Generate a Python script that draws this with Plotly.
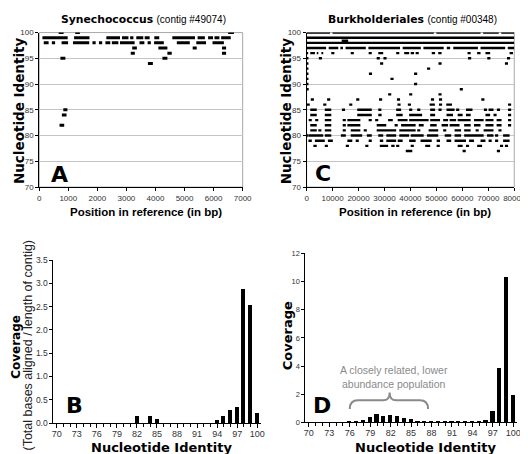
import plotly.graph_objects as go

W, H = 528, 454

# ---------------- Panel A: Synechococcus (contig #49074) reads: (start bp, end bp) per identity
a_100 = [(670, 840), (1240, 1400), (6500, 6700)]
a_99 = [(110, 980), (1200, 1730), (2310, 2780), (2850, 3070), (3130, 3240), (3340, 3580),
        (3630, 3800), (3960, 4130), (4580, 5360), (5450, 5700), (5810, 5980), (6030, 6200),
        (6260, 6590)]
a_98 = [(156, 324), (435, 547), (770, 994), (1161, 1720), (1832, 1943), (2055, 2166),
        (2278, 2445), (2500, 2724), (2780, 3283), (3450, 3618), (3730, 3841), (3953, 4288),
        (4735, 5181), (5404, 5740), (5963, 6354)]
a_97 = [(3200, 3360), (4100, 4410), (5280, 5420), (6290, 6430)]
a_96 = [(3150, 3290), (4410, 4560), (6290, 6430)]
a_95 = [(730, 900), (4240, 4410)]
a_94 = [(3740, 3910)]
a_85 = [(830, 970)]
a_84 = [(780, 940)]
a_82 = [(700, 860)]

# ---------------- Panel C: Burkholderiales (contig #00348) reads: (start kbp, end kbp) per identity
c_100 = [(0, 9.0), (10.0, 49.0), (50.0, 67.0), (68.0, 74.0), (75.0, 80.0)]
c_99 = [(0, 80.0)]
c_98 = [(0, 80.0)]
c_98_5 = [(13.5, 16.0)]
c_97 = [(0, 7.5), (8.5, 12.2), (13.0, 14.0), (15.0, 22.8), (23.8, 36.0), (37.0, 44.0),
        (45.0, 52.8), (54.0, 55.3), (56.5, 66.0), (67.0, 76.5), (77.5, 80.0)]
c_96 = [(0, 0.6), (1.4, 3.2), (3.9, 4.5), (5.7, 6.4), (9.5, 10.7), (17.0, 18.2), (23.9, 25.1),
        (27.6, 29.5), (34.5, 35.7), (37.6, 39.5), (40.1, 41.4), (42.0, 43.2), (48.2, 49.5),
        (50.7, 52.0), (62.0, 63.2), (65.7, 67.0), (68.9, 70.7), (78.2, 79.5)]
c_95 = [(0, 0.7), (4.7, 5.9), (27.0, 28.2), (29.6, 30.8), (62.2, 63.4), (69.6, 70.8), (77.2, 78.4)]
c_94 = [(0, 0.7), (28.3, 29.5), (50.8, 52.0), (76.4, 77.6)]
c_93 = [(0, 0.7), (46.4, 47.6)]
c_92 = [(0, 0.7), (24.0, 25.2), (41.4, 42.6)]
c_91 = [(0, 0.7), (32.3, 33.5)]
c_90 = [(0, 0.7), (41.4, 42.6)]
c_89 = [(0, 0.8), (59.0, 60.2)]
c_88 = [(31.4, 32.6), (39.5, 40.7), (50.8, 52.0)]
c_87 = [(1.6, 2.8), (7.9, 9.1), (19.1, 20.3), (27.9, 29.1), (34.8, 36.0), (47.9, 49.1),
        (51.0, 52.2), (67.3, 68.5)]
c_86 = [(0, 1.2), (6.4, 7.6), (16.4, 17.6), (35.0, 36.2), (39.0, 40.2), (47.4, 49.4),
        (51.0, 52.2), (53.8, 56.0), (77.6, 78.8)]
c_85 = [(1.4, 3.9), (7.0, 9.5), (13.6, 14.8), (19.5, 25.1), (27.6, 28.8), (34.5, 36.4),
        (39.5, 40.7), (42.6, 43.8), (47.6, 49.5), (50.8, 52.0), (53.9, 57.0), (57.6, 58.8),
        (61.4, 63.9), (68.3, 69.5), (70.1, 72.0), (73.3, 74.5), (77.6, 78.8)]
c_84 = [(1.4, 3.9), (7.0, 9.5), (19.5, 25.1), (27.6, 28.9), (34.5, 37.0), (39.5, 44.5),
        (47.6, 49.5), (53.9, 56.4), (58.2, 60.1), (61.4, 63.2), (68.9, 70.7), (72.0, 73.2),
        (77.6, 78.8)]
c_83 = [(0.8, 2.0), (3.3, 4.5), (7.0, 9.5), (13.9, 15.1), (15.7, 20.7), (23.9, 25.1),
        (26.4, 27.6), (31.4, 33.2), (35.1, 38.9), (39.5, 47.0), (47.6, 51.4), (52.6, 54.5),
        (55.1, 57.6), (58.2, 63.2), (64.5, 68.2), (68.9, 72.0), (73.2, 75.1), (77.6, 78.8)]
c_82 = [(1.4, 3.9), (7.0, 9.5), (13.9, 15.1), (15.7, 20.7), (27.0, 30.7), (33.9, 35.1),
        (36.4, 42.0), (43.2, 45.1), (47.6, 50.1), (52.0, 54.5), (55.1, 58.9), (60.7, 63.2),
        (64.5, 67.0), (68.9, 72.0), (73.2, 75.1), (77.6, 78.8)]
c_81 = [(1.4, 3.9), (4.5, 5.7), (7.0, 9.5), (13.9, 15.1), (17.0, 20.7), (22.0, 23.2),
        (27.0, 34.5), (35.7, 42.0), (42.6, 43.8), (47.0, 50.7), (52.6, 53.8), (57.0, 59.5),
        (60.7, 63.2), (65.1, 66.3), (68.2, 72.0), (73.9, 75.1)]
c_80 = [(0, 0.6), (0.7, 6.4), (7.0, 9.5), (13.2, 15.1), (17.0, 21.4), (23.2, 25.1),
        (27.6, 29.5), (30.7, 34.5), (35.7, 39.5), (40.1, 45.1), (46.4, 50.7), (53.2, 55.7),
        (57.0, 59.5), (60.7, 68.2), (69.5, 72.0), (72.6, 73.8), (75.7, 78.2)]
c_79 = [(0.7, 2.0), (3.2, 7.0), (8.2, 10.1), (15.7, 17.6), (18.9, 20.1), (23.9, 25.1),
        (28.2, 29.5), (30.7, 34.5), (35.1, 37.0), (39.5, 42.0), (43.9, 48.2), (50.1, 51.4),
        (53.9, 55.7), (57.0, 61.4), (62.6, 64.5), (67.0, 68.9), (70.1, 71.3), (72.6, 73.8),
        (75.7, 78.2)]
c_78 = [(2.6, 3.9), (7.0, 8.2), (15.1, 16.3), (22.6, 23.8), (28.2, 31.4), (32.6, 33.9),
        (34.5, 35.7), (40.1, 41.3), (45.7, 47.6), (50.1, 51.3), (58.2, 60.1), (61.4, 62.6),
        (65.7, 67.6), (74.5, 75.7), (76.4, 77.6)]
c_77 = [(38.2, 40.7), (60.1, 61.3), (73.3, 74.5)]

# ---------------- Panels B & D: coverage by nucleotide identity
identity = list(range(70, 101))
cov_B = [0, 0, 0, 0, 0, 0, 0, 0, 0, 0, 0, 0, 0.14, 0, 0.14, 0.08, 0, 0, 0, 0, 0, 0, 0, 0,
         0.07, 0.14, 0.28, 0.35, 2.87, 2.54, 0.21]
cov_D = [0, 0, 0, 0, 0, 0, 0.02, 0.06, 0.18, 0.38, 0.55, 0.45, 0.5, 0.45, 0.3, 0.22, 0.12,
         0.07, 0.04, 0.03, 0.03, 0.03, 0.03, 0.03, 0.05, 0.07, 0.17, 0.78, 3.83, 10.3, 1.9]

a_rows = [(100, a_100), (99, a_99), (98, a_98), (97, a_97), (96, a_96), (95, a_95),
          (94, a_94), (85, a_85), (84, a_84), (82, a_82)]
c_rows = [(100, c_100), (99, c_99), (98, c_98), (98.4, c_98_5), (97, c_97), (96, c_96),
          (95, c_95), (94, c_94), (93, c_93), (92, c_92), (91, c_91), (90, c_90), (89, c_89),
          (88, c_88), (87, c_87), (86, c_86), (85, c_85), (84, c_84), (83, c_83), (82, c_82),
          (81, c_81), (80, c_80), (79, c_79), (78, c_78), (77, c_77)]


def segs_to_xy(rows, scale=1.0):
    xs, ys = [], []
    for level, segs in rows:
        for s, e in segs:
            xs += [s * scale, e * scale, None]
            ys += [level, level, None]
    return xs, ys


ax_x, ax_y = segs_to_xy(a_rows)
cx_x, cx_y = segs_to_xy(c_rows, 1000.0)

fig = go.Figure()
fig.add_trace(go.Scatter(x=ax_x, y=ax_y, mode="lines", line=dict(color="black", width=3),
                         xaxis="x", yaxis="y", showlegend=False, hoverinfo="skip"))
fig.add_trace(go.Scatter(x=cx_x, y=cx_y, mode="lines", line=dict(color="black", width=2.4),
                         xaxis="x2", yaxis="y2", showlegend=False, hoverinfo="skip"))
fig.add_trace(go.Bar(x=identity, y=cov_B, width=0.6, marker=dict(color="black", line=dict(width=0)),
                     xaxis="x3", yaxis="y3", showlegend=False))
fig.add_trace(go.Bar(x=identity, y=cov_D, width=0.62, marker=dict(color="black", line=dict(width=0)),
                     xaxis="x4", yaxis="y4", showlegend=False))


def px_dom(p0, p1, total):
    return [p0 / total, p1 / total]


def py_dom(top, bottom):
    return [1 - bottom / H, 1 - top / H]


TICKF = dict(family="Liberation Sans, Arial, sans-serif", size=8, color="#333")

scatter_x = dict(showline=True, linecolor="black", linewidth=1, ticks="outside", ticklen=3,
                 tickcolor="black", showgrid=False, zeroline=False, tickformat="d", tickfont=TICKF)
scatter_y = dict(showline=True, linecolor="black", linewidth=1, ticks="outside", ticklen=3,
                 tickcolor="black", showgrid=True, gridcolor="#c4c4c4", gridwidth=1,
                 zeroline=False, range=[70, 100], dtick=5, tickfont=TICKF)

bar_x = dict(showline=True, linecolor="black", linewidth=1, ticks="outside", ticklen=4,
             tickcolor="black", range=[69.5, 100.5], tick0=70, dtick=3, showgrid=False,
             zeroline=False, ticklabelstandoff=-2,
             tickfont=dict(family="Liberation Sans, Arial, sans-serif", size=9, color="#333"),
             minor=dict(tick0=70, dtick=1, ticks="outside", ticklen=3, tickcolor="black", showgrid=False))
bar_y = dict(showline=True, linecolor="black", linewidth=1, ticks="outside", ticklen=3,
             tickcolor="black", showgrid=False, zeroline=False,
             tickfont=dict(family="Liberation Sans, Arial, sans-serif", size=8.5, color="#333"))

fig.update_layout(
    width=W, height=H, margin=dict(l=0, r=0, t=0, b=0),
    paper_bgcolor="white", plot_bgcolor="white", bargap=0,
    xaxis=dict(scatter_x, domain=px_dom(30, 239, W), range=[0, 7000], dtick=1000, anchor="y"),
    yaxis=dict(scatter_y, domain=py_dom(20, 178), anchor="x"),
    xaxis2=dict(scatter_x, domain=px_dom(304.7, 518, W), range=[0, 80000], dtick=10000, anchor="y2"),
    yaxis2=dict(scatter_y, domain=py_dom(20, 178), anchor="x2"),
    xaxis3=dict(bar_x, domain=px_dom(44.6, 257.4, W), anchor="y3"),
    yaxis3=dict(bar_y, domain=py_dom(252.7, 419.3), range=[0, 3.5], dtick=0.5, tickformat=".1f", anchor="x3"),
    xaxis4=dict(bar_x, domain=px_dom(303.5, 520.5, W), anchor="y4"),
    yaxis4=dict(bar_y, domain=py_dom(245.7, 418.7), range=[0, 12], dtick=2, anchor="x4",
                tickfont=dict(family="Liberation Sans, Arial, sans-serif", size=7.5, color="#333")),
)

# gray frames around the scatter plots
for xr, yr in [("x", "y"), ("x2", "y2")]:
    fig.add_shape(type="rect", xref=xr + " domain", yref=yr + " domain", x0=0, x1=1, y0=0, y1=1,
                  line=dict(color="#a8a8a8", width=1), layer="below")

# curly brace in panel D
fig.add_shape(type="path", xref="x4", yref="y4",
              path="M 76,0.95 Q 76,1.57 77.2,1.57 L 80.9,1.57 Q 81.86,1.57 81.86,2.13 "
                   "Q 81.86,1.57 82.8,1.57 L 86.3,1.57 Q 87.5,1.57 87.5,0.95",
              line=dict(color="#8a8a8a", width=2))

BOLD = "DejaVu Sans, Verdana, sans-serif"
SANS = "Liberation Sans, Arial, sans-serif"


def ann(text, px, py, size, family=BOLD, color="black", angle=0, xanchor="center"):
    return dict(text=text, x=px / W, y=1 - py / H, xref="paper", yref="paper", showarrow=False,
                textangle=angle, xanchor=xanchor, yanchor="middle",
                font=dict(family=family, size=size, color=color))


anns = [
    ann("<b>Synechococcus</b> <span style='font-family:Liberation Sans; font-size:10px'>(contig #49074)</span>",
        137, 7, 10.8),
    ann("<b>Burkholderiales</b> <span style='font-family:Liberation Sans; font-size:10px'>(contig #00348)</span>",
        413, 7, 10.8),
    ann("<b>Nucleotide Identity</b>", 9.5, 100, 13.5, angle=-90),
    ann("<b>Nucleotide Identity</b>", 283, 100, 13.5, angle=-90),
    ann("<b>Position in reference (in bp)</b>", 140, 203.5, 11.5, family=SANS),
    ann("<b>Position in reference (in bp)</b>", 416, 203, 11.5, family=SANS),
    ann("<b>A</b>", 51, 165, 22),
    ann("<b>C</b>", 322, 164, 22),
    ann("<b>B</b>", 66, 401, 22),
    ann("<b>D</b>", 321, 401, 22),
    ann("<b>Coverage</b>", 6.5, 341, 12, angle=-90),
    ann("(Total bases aligned / length of contig)", 18.5, 340, 12.5, family=SANS, color="#222", angle=-90),
    ann("<b>Coverage</b>", 285, 330, 13, angle=-90),
    ann("<b>Nucleotide Identity</b>", 156, 444.5, 13),
    ann("<b>Nucleotide Identity</b>", 427, 444.5, 13),
    ann("A closely related, lower<br>abundance population", 337, 372, 10.5, family=SANS,
        color="#8a8a8a", xanchor="left"),
]
fig.update_layout(annotations=anns)

fig.write_html("out.html")
